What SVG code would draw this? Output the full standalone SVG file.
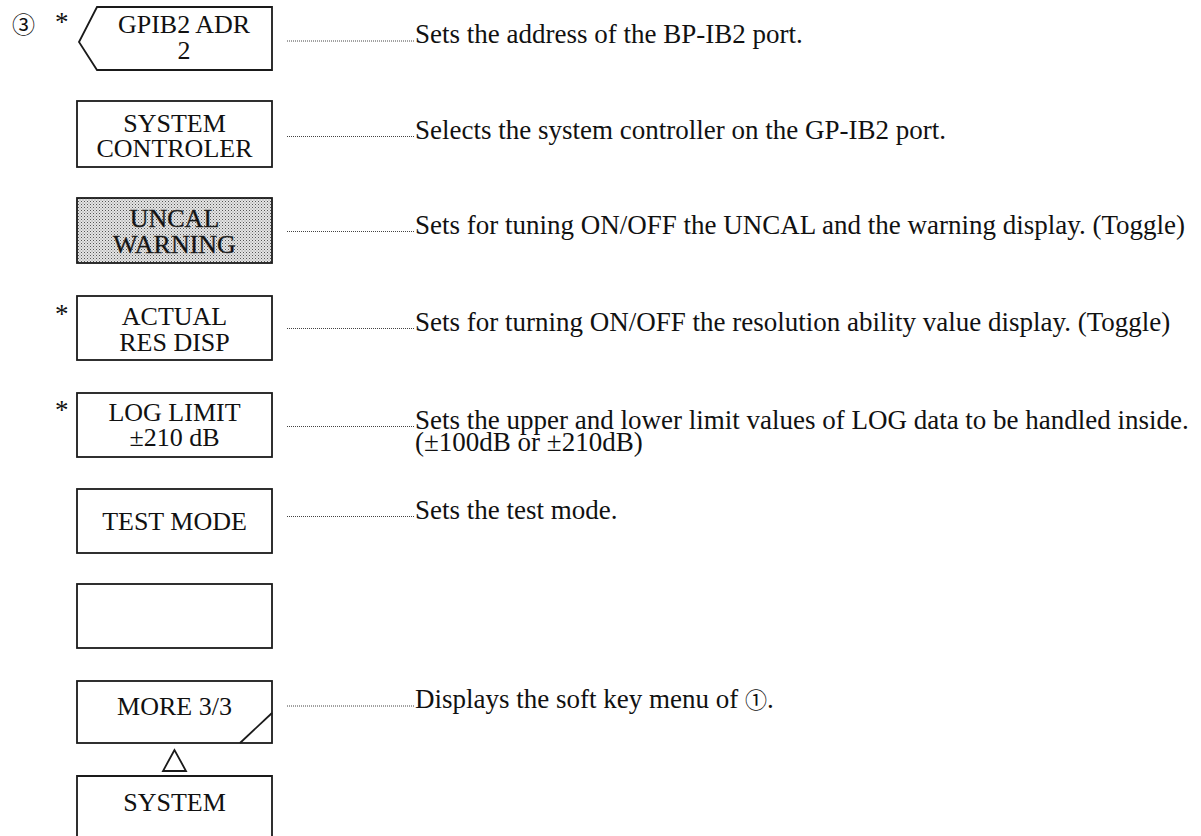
<svg xmlns="http://www.w3.org/2000/svg" width="1201" height="836" viewBox="0 0 1201 836">
<defs>
<pattern id="dots" width="3" height="3" patternUnits="userSpaceOnUse">
<rect width="3" height="3" fill="#e4e4e4"/>
<rect width="1" height="1" fill="#555"/>
<rect x="1.5" y="1.5" width="1" height="1" fill="#888"/>
</pattern>
</defs>
<style>
.box{fill:#fff;stroke:#1a1a1a;stroke-width:1.8}
.bt{font-family:"Liberation Serif","Times New Roman",serif;font-size:26px;fill:#111;text-anchor:middle}
.dt{font-family:"Liberation Serif","Times New Roman",serif;font-size:27px;fill:#111}
.con{stroke:#444;stroke-width:1;stroke-dasharray:1 1;fill:none}
.mk{font-family:"Liberation Serif","Times New Roman",serif;font-size:27px;fill:#111}
.circ{font-family:"Noto Sans CJK JP","Noto Sans CJK SC",sans-serif;font-size:23px;fill:#111}
</style>
<rect width="1201" height="836" fill="#fff"/>
<text class="circ" x="12" y="33">③</text>
<g id="n1"><text class="mk" x="55" y="31">*</text><path class="box" d="M97 7 H272 V70 H97 L79 42 Z"/><text class="bt" x="184" y="33">GPIB2 ADR</text><text class="bt" x="184" y="59">2</text></g>
<g id="n2"><rect class="box" x="77" y="101" width="195" height="66"/><text class="bt" x="174.5" y="132">SYSTEM</text><text class="bt" x="174.5" y="157">CONTROLER</text></g>
<g id="n3"><rect class="box" x="77" y="198" width="195" height="65" style="fill:url(#dots)"/><text class="bt" x="174.5" y="227" stroke="#333" stroke-width="0.4">UNCAL</text><text class="bt" x="174.5" y="252.5" stroke="#333" stroke-width="0.4">WARNING</text></g>
<g id="n4"><text class="mk" x="55" y="323">*</text><rect class="box" x="77" y="296" width="195" height="64"/><text class="bt" x="174.5" y="325">ACTUAL</text><text class="bt" x="174.5" y="351">RES DISP</text></g>
<g id="n5"><text class="mk" x="55" y="419">*</text><rect class="box" x="77" y="393" width="195" height="64"/><text class="bt" x="174.5" y="421">LOG LIMIT</text><text class="bt" x="174.5" y="446">±210 dB</text></g>
<g id="n6"><rect class="box" x="77" y="489" width="195" height="64"/><text class="bt" x="174.5" y="530">TEST MODE</text></g>
<g id="n7"><rect class="box" x="77" y="584" width="195" height="64"/></g>
<g id="n8"><rect class="box" x="77" y="681" width="195" height="62"/><path class="box" d="M240 743 L272 713" fill="none"/><text class="bt" x="174.5" y="715">MORE 3/3</text></g>
<g id="tri"><path class="box" d="M174.5 750 L163 771 H186 Z"/></g>
<g id="n9"><path class="box" d="M77 840 V776 H272 V840" fill="none"/><text class="bt" x="174.5" y="811">SYSTEM</text></g>
<g id="connectors">
<line class="con" x1="287" y1="41" x2="415" y2="41"/>
<line class="con" x1="287" y1="136.5" x2="415" y2="136.5"/>
<line class="con" x1="287" y1="231.5" x2="415" y2="231.5"/>
<line class="con" x1="287" y1="328.5" x2="415" y2="328.5"/>
<line class="con" x1="287" y1="426.5" x2="415" y2="426.5"/>
<line class="con" x1="287" y1="516.5" x2="415" y2="516.5"/>
<line class="con" x1="287" y1="706" x2="415" y2="706"/>
</g>
<g id="desc">
<text class="dt" x="415" y="43">Sets the address of the BP-IB2 port.</text>
<text class="dt" x="415" y="138.5">Selects the system controller on the GP-IB2 port.</text>
<text class="dt" x="415" y="233.5">Sets for tuning ON/OFF the UNCAL and the warning display. (Toggle)</text>
<text class="dt" x="415" y="330.5">Sets for turning ON/OFF the resolution ability value display. (Toggle)</text>
<text class="dt" x="415" y="428.5">Sets the upper and lower limit values of LOG data to be handled inside.</text>
<text class="dt" x="415" y="451">(±100dB or ±210dB)</text>
<text class="dt" x="415" y="518.5">Sets the test mode.</text>
<text class="dt" x="415" y="708">Displays the soft key menu of  <tspan font-family="Noto Sans CJK JP,Noto Sans CJK SC,sans-serif" font-size="22">①</tspan>.</text>
</g>
</svg>
